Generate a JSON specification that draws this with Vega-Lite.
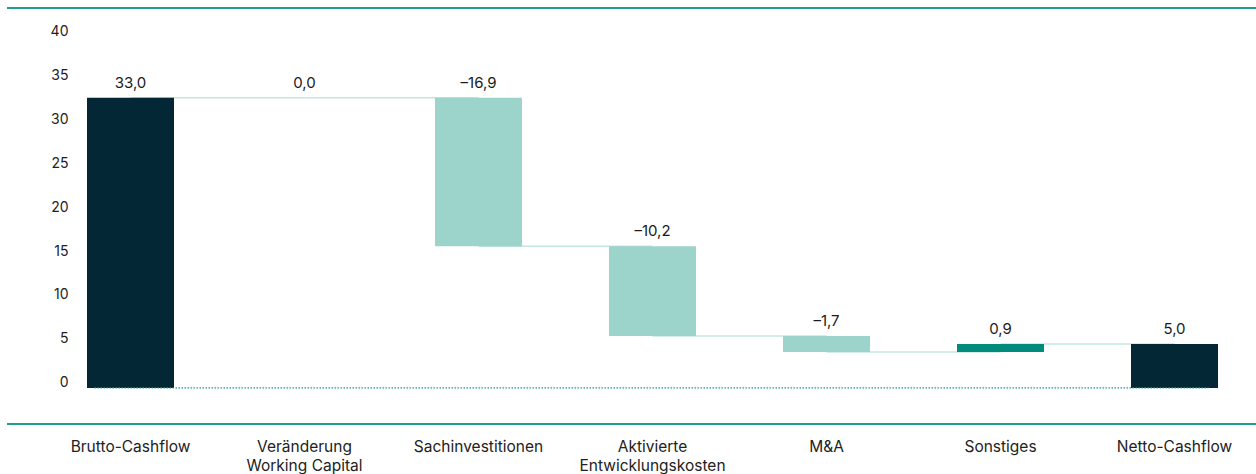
{
  "$schema": "https://vega.github.io/schema/vega-lite/v6.json",
  "width": 1249,
  "height": 416,
  "autosize": {"type": "none"},
  "padding": {"left": 7, "top": 8, "right": 0, "bottom": 50},
  "background": "white",
  "config": {"view": {"stroke": null}, "font": "Inter"},
  "datasets": {
    "bars": [
      {"cat": "Brutto-Cashflow", "low": 0, "high": 33.0, "label": "33,0", "kind": "total"},
      {"cat": "Veränderung Working Capital", "low": 33.0, "high": 33.0, "label": "0,0", "kind": "neg"},
      {"cat": "Sachinvestitionen", "low": 16.1, "high": 33.0, "label": "–16,9", "kind": "neg"},
      {"cat": "Aktivierte Entwicklungskosten", "low": 5.9, "high": 16.1, "label": "–10,2", "kind": "neg"},
      {"cat": "M&A", "low": 4.1, "high": 5.9, "label": "–1,7", "kind": "neg"},
      {"cat": "Sonstiges", "low": 4.1, "high": 5.0, "label": "0,9", "kind": "pos"},
      {"cat": "Netto-Cashflow", "low": 0, "high": 5.0, "label": "5,0", "kind": "total"}
    ],
    "links": [
      {"from": "Brutto-Cashflow", "to": "Veränderung Working Capital", "level": 33.0},
      {"from": "Veränderung Working Capital", "to": "Sachinvestitionen", "level": 33.0},
      {"from": "Sachinvestitionen", "to": "Aktivierte Entwicklungskosten", "level": 16.1},
      {"from": "Aktivierte Entwicklungskosten", "to": "M&A", "level": 5.9},
      {"from": "M&A", "to": "Sonstiges", "level": 4.1},
      {"from": "Sonstiges", "to": "Netto-Cashflow", "level": 5.0}
    ]
  },
  "layer": [
    {
      "data": {"name": "links"},
      "mark": {"type": "rule", "stroke": "#c3e6e0", "strokeWidth": 1.5},
      "encoding": {
        "x": {
          "field": "from",
          "type": "nominal",
          "scale": {
            "domain": ["Brutto-Cashflow", "Veränderung Working Capital", "Sachinvestitionen", "Aktivierte Entwicklungskosten", "M&A", "Sonstiges", "Netto-Cashflow"],
            "range": [36.5, 1254.5],
            "paddingInner": 0.5,
            "paddingOuter": 0.25
          },
          "axis": {
            "title": null,
            "orient": "bottom",
            "domain": false,
            "ticks": false,
            "grid": false,
            "labelAngle": 0,
            "labelPadding": 15,
            "labelFont": "Inter",
            "labelFontSize": 15.5,
            "labelColor": "#222222",
            "labelLineHeight": 19,
            "labelExpr": "datum.label == 'Veränderung Working Capital' ? ['Veränderung', 'Working Capital'] : datum.label == 'Aktivierte Entwicklungskosten' ? ['Aktivierte', 'Entwicklungskosten'] : datum.label"
          }
        },
        "x2": {"field": "to"},
        "y": {
          "field": "level",
          "type": "quantitative",
          "scale": {"domain": [-4.1, 43.2], "nice": false, "zero": false},
          "axis": {
            "title": null,
            "values": [0, 5, 10, 15, 20, 25, 30, 35, 40],
            "offset": -66,
            "domain": false,
            "ticks": false,
            "grid": false,
            "labelPadding": 5,
            "labelFont": "Inter",
            "labelFontSize": 14,
            "labelColor": "#222222",
            "labelOffset": -5
          }
        }
      }
    },
    {
      "data": {"name": "bars"},
      "mark": {"type": "bar"},
      "encoding": {
        "x": {"field": "cat", "type": "nominal"},
        "y": {"field": "low", "type": "quantitative"},
        "y2": {"field": "high"},
        "color": {
          "field": "kind",
          "type": "nominal",
          "scale": {"domain": ["total", "neg", "pos"], "range": ["#032735", "#9cd3cb", "#008b7c"]},
          "legend": null
        }
      }
    },
    {
      "data": {"values": [{}]},
      "mark": {"type": "rule", "stroke": "#1a9e8e", "strokeWidth": 1.2, "strokeDash": [1.5, 1.5], "xOffset": -36, "x2Offset": 34},
      "encoding": {
        "x": {"datum": "Brutto-Cashflow"},
        "x2": {"datum": "Netto-Cashflow"},
        "y": {"datum": 0}
      }
    },
    {
      "data": {"values": [{}]},
      "mark": {"type": "rule", "stroke": "#1f9e8f", "strokeWidth": 2},
      "encoding": {"y": {"datum": 43.2}}
    },
    {
      "data": {"values": [{}]},
      "mark": {"type": "rule", "stroke": "#1f9e8f", "strokeWidth": 2},
      "encoding": {"y": {"datum": -4.1}}
    },
    {
      "data": {"name": "bars"},
      "mark": {"type": "text", "font": "Inter", "fontSize": 15, "color": "#1a1a1a", "baseline": "alphabetic", "dy": -10},
      "encoding": {
        "x": {"field": "cat", "type": "nominal"},
        "y": {"field": "high", "type": "quantitative"},
        "text": {"field": "label"}
      }
    }
  ]
}
